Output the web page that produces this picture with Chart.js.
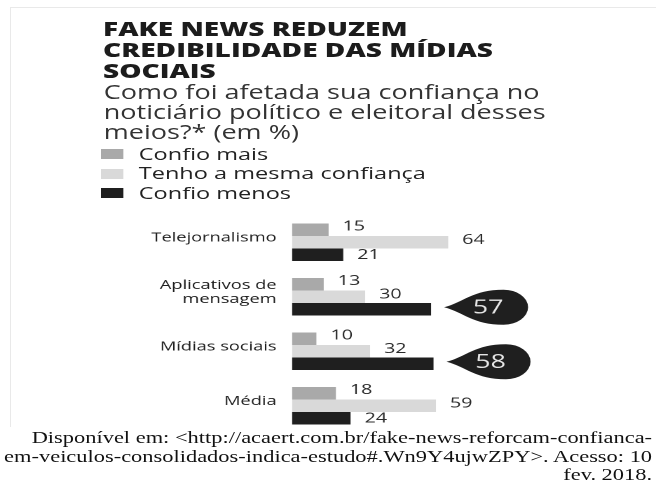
<!DOCTYPE html>
<html>
<head>
<meta charset="utf-8">
<script src="https://cdn.jsdelivr.net/npm/chart.js@4.4.1/dist/chart.umd.min.js"></script>
<style>
  html, body { margin:0; padding:0; background:#fff; width:656px; height:482px; overflow:hidden; }
  #frame { position:absolute; left:10px; top:7px; width:660px; height:420px; border-left:1px solid #e9e9e9; border-top:1px solid #e9e9e9; box-sizing:border-box; }
  #wrap { position:absolute; left:0; top:0; width:468px; height:482px; transform:scaleX(1.4017); transform-origin:0 0; }
  #chart { position:absolute; left:0; top:0; }
  .title { position:absolute; left:73.5px; top:18.4px; font-family:'Open Sans', sans-serif; font-weight:800; font-size:20px; line-height:21px; color:#1c1c1c; white-space:nowrap; }
  .subtitle { position:absolute; left:74px; top:82px; font-family:'Open Sans', sans-serif; font-size:19.3px; line-height:20px; color:#333; white-space:nowrap; }
  .leg { position:absolute; left:0; font-family:'Open Sans', sans-serif; font-size:16.8px; line-height:20px; color:#222; white-space:nowrap; }
  .leg .box { position:absolute; left:72px; width:16.4px; height:10px; }
  .leg .txt { position:absolute; left:99px; }
  .src { position:absolute; right:2.8px; font-family:'Liberation Serif', 'Times New Roman', serif; font-size:16px; line-height:18.5px; color:#111; white-space:nowrap; }
</style>
</head>
<body>
<div id="frame"></div>
<div id="wrap">
  <canvas id="chart" width="468" height="482"></canvas>
  <div class="title">FAKE NEWS REDUZEM<br>CREDIBILIDADE DAS MÍDIAS<br>SOCIAIS</div>
  <div class="subtitle">Como foi afetada sua confiança no<br>noticiário político e eleitoral desses<br>meios?* (em %)</div>
  <div id="legend"></div>
  <div id="source"></div>
</div>
<script>
// ---- data ----
const categories = [['Telejornalismo'], ['Aplicativos de', 'mensagem'], ['Mídias sociais'], ['Média']];
const seriesNames = ['Confio mais', 'Tenho a mesma confiança', 'Confio menos'];
const confioMais = [15, 13, 10, 18];
const mesmaConfianca = [64, 30, 32, 59];
const confioMenos = [21, 57, 58, 24];
const highlighted = [false, true, true, false];
const sourceLines = [
  'Disponível em: <http://acaert.com.br/fake-news-reforcam-confianca-',
  'em-veiculos-consolidados-indica-estudo#.Wn9Y4ujwZPY>. Acesso: 10',
  'fev. 2018.'
];
// ---- style ----
const colors = ['#a9a9a9', '#d9d9d9', '#1f1f1f'];
const labelDy = [-3.5, -2, 0.5];
const seriesData = [confioMais, mesmaConfianca, confioMenos];

// legend
const legend = document.getElementById('legend');
seriesNames.forEach((name, i) => {
  const cy = 154 + 19.5 * i;
  const row = document.createElement('div');
  row.className = 'leg';
  row.style.top = (cy - 10.5) + 'px';
  const box = document.createElement('div');
  box.className = 'box';
  box.style.background = colors[i];
  box.style.top = '5.5px';
  const txt = document.createElement('div');
  txt.className = 'txt';
  txt.textContent = name;
  row.appendChild(box); row.appendChild(txt);
  legend.appendChild(row);
});

// source
const src = document.getElementById('source');
sourceLines.forEach((line, i) => {
  const d = document.createElement('div');
  d.className = 'src';
  d.style.top = (429.3 + 18.5 * i) + 'px';
  d.textContent = line;
  src.appendChild(d);
});

const labelPlugin = {
  id: 'valueLabels',
  afterDatasetsDraw(chart) {
    const ctx = chart.ctx;
    ctx.save();
    chart.data.datasets.forEach((ds, di) => {
      const meta = chart.getDatasetMeta(di);
      meta.data.forEach((bar, i) => {
        const v = ds.data[i];
        if (di === 2 && highlighted[i]) {
          const tipX = bar.x + 9.3;
          const cy = bar.y - 2;
          const r = 17.5;
          const cx = tipX + 42.4;
          ctx.fillStyle = '#1f1f1f';
          ctx.beginPath();
          ctx.moveTo(tipX, cy);
          ctx.bezierCurveTo(tipX + 14, cy - 5, cx - 22, cy - r, cx, cy - r);
          ctx.arc(cx, cy, r, -Math.PI / 2, Math.PI / 2, false);
          ctx.bezierCurveTo(cx - 22, cy + r, tipX + 14, cy + 5, tipX, cy);
          ctx.closePath();
          ctx.fill();
          ctx.fillStyle = '#e6e6e6';
          ctx.font = '500 19px "Open Sans"';
          ctx.textAlign = 'center';
          ctx.textBaseline = 'middle';
          ctx.fillText(String(v), cx - 11, cy + 1);
        } else {
          ctx.fillStyle = '#2a2a2a';
          ctx.font = '500 14px "Open Sans"';
          ctx.textAlign = 'left';
          ctx.textBaseline = 'middle';
          ctx.fillText(String(v), bar.x + 10, bar.y + labelDy[di]);
        }
      });
    });
    ctx.restore();
  }
};

new Chart(document.getElementById('chart'), {
  type: 'bar',
  data: {
    labels: categories,
    datasets: seriesNames.map((n, k) => ({
      label: n,
      data: seriesData[k],
      backgroundColor: colors[k],
      borderWidth: 0,
      categoryPercentage: 0.686,
      barPercentage: 1
    }))
  },
  options: {
    indexAxis: 'y',
    responsive: false,
    animation: false,
    devicePixelRatio: 2,
    layout: { padding: { top: 215, bottom: 49, left: 0, right: 85.6 } },
    plugins: { legend: { display: false }, tooltip: { enabled: false } },
    scales: {
      x: { display: false, min: 0, max: 100 },
      y: {
        grid: { display: false, drawTicks: false },
        border: { display: false },
        ticks: { padding: 11, labelOffset: -4.5, color: '#1e1e1e', font: { family: 'Open Sans', size: 13, weight: '500', lineHeight: 1.05 } },
        afterFit(s) { s.width = 208.3; }
      }
    }
  },
  plugins: [labelPlugin]
});
</script>
</body>
</html>
